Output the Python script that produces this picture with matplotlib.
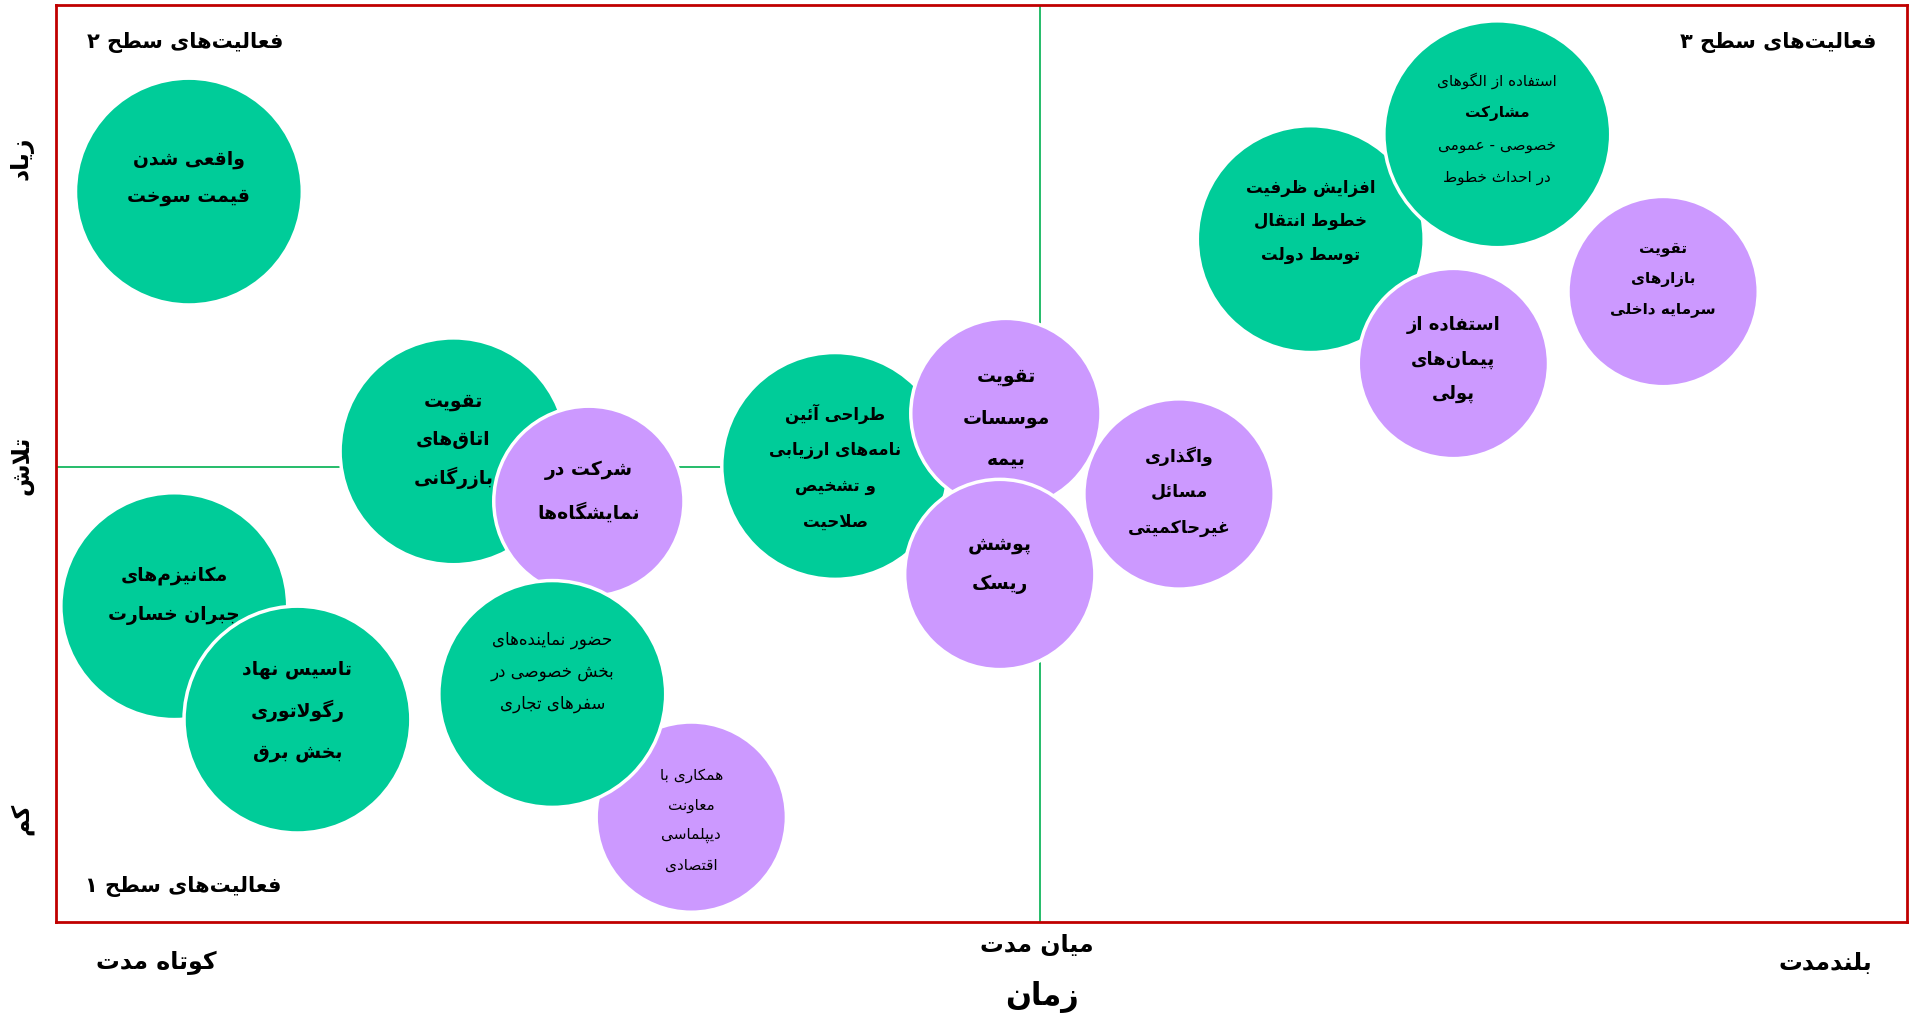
import matplotlib
matplotlib.use("Agg")
import matplotlib.pyplot as plt
from matplotlib.patches import Circle

# activities: label lines, position on time axis, position on effort axis, bubble radius, group
labels = [
    ['واقعی شدن', 'قیمت سوخت'],
    ['تقویت', 'اتاق‌های', 'بازرگانی'],
    ['شرکت در', 'نمایشگاه‌ها'],
    ['مکانیزم‌های', 'جبران خسارت'],
    ['تاسیس نهاد', 'رگولاتوری', 'بخش برق'],
    ['همکاری با', 'معاونت', 'دیپلماسی', 'اقتصادی'],
    ['حضور نماینده‌های', 'بخش خصوصی در', 'سفرهای تجاری'],
    ['طراحی آئین', 'نامه‌های ارزیابی', 'و تشخیص', 'صلاحیت'],
    ['تقویت', 'موسسات', 'بیمه'],
    ['پوشش', 'ریسک'],
    ['واگذاری', 'مسائل', 'غیرحاکمیتی'],
    ['افزایش ظرفیت', 'خطوط انتقال', 'توسط دولت'],
    ['استفاده از الگوهای', 'مشارکت', 'خصوصی - عمومی', 'در احداث خطوط'],
    ['استفاده از', 'پیمان‌های', 'پولی'],
    ['تقویت', 'بازارهای', 'سرمایه داخلی'],
]
time_pos = [109, 326, 437, 97, 198, 521, 407, 639, 779, 774, 921, 1029, 1182, 1146, 1318]
effort_pos = [599, 386, 345, 259, 166, 86, 187, 374, 417, 285, 351, 560, 646, 458, 517]
radius = [93, 93, 78, 93, 93, 78, 93, 93, 78, 78, 78, 93, 93, 78, 78]
group = ['g', 'g', 'p', 'g', 'g', 'p', 'g', 'g', 'p', 'p', 'p', 'g', 'g', 'p', 'p']

quadrant_titles = ['فعالیت‌های سطح ۲', 'فعالیت‌های سطح ۳', 'فعالیت‌های سطح ۱']
effort_ticks = ['زیاد', 'تلاش', 'کم']
time_ticks = ['کوتاه مدت', 'میان مدت', 'بلندمدت']
time_title = 'زمان'

# text style per bubble: font size, line step, shift of the text block, weight per line
text_size = [13.5, 13.5, 13.5, 13.5, 13.5, 11, 12, 12, 13.5, 13.5, 12.5, 12, 11, 13, 11]
text_step = [30, 31.5, 34, 33, 34, 24.5, 26, 29.5, 34, 32, 29.5, 27.5, 26.5, 28, 24.5]
text_shift = [12, 10.5, 9, 9.5, 8, -1.5, 19, -1, -3, 9, 2.5, 15.5, 5, 4, 10.5]
text_weight = {6: 'normal', 5: 'normal', 12: ['normal', 'bold', 'normal', 'normal']}
colors = {'g': '#00CC99', 'p': '#CC99FF'}

# --- simple Persian shaping (matplotlib has no bidi / joining) ---
FORMS = {
    'ا': (0xFE8D, 0xFE8E, None, None), 'آ': (0xFE81, 0xFE82, None, None),
    'ئ': (0xFE89, 0xFE8A, 0xFE8B, 0xFE8C), 'ب': (0xFE8F, 0xFE90, 0xFE91, 0xFE92),
    'ت': (0xFE95, 0xFE96, 0xFE97, 0xFE98), 'ث': (0xFE99, 0xFE9A, 0xFE9B, 0xFE9C),
    'ج': (0xFE9D, 0xFE9E, 0xFE9F, 0xFEA0), 'ح': (0xFEA1, 0xFEA2, 0xFEA3, 0xFEA4),
    'خ': (0xFEA5, 0xFEA6, 0xFEA7, 0xFEA8), 'د': (0xFEA9, 0xFEAA, None, None),
    'ذ': (0xFEAB, 0xFEAC, None, None), 'ر': (0xFEAD, 0xFEAE, None, None),
    'ز': (0xFEAF, 0xFEB0, None, None), 'س': (0xFEB1, 0xFEB2, 0xFEB3, 0xFEB4),
    'ش': (0xFEB5, 0xFEB6, 0xFEB7, 0xFEB8), 'ص': (0xFEB9, 0xFEBA, 0xFEBB, 0xFEBC),
    'ض': (0xFEBD, 0xFEBE, 0xFEBF, 0xFEC0), 'ط': (0xFEC1, 0xFEC2, 0xFEC3, 0xFEC4),
    'ظ': (0xFEC5, 0xFEC6, 0xFEC7, 0xFEC8), 'ع': (0xFEC9, 0xFECA, 0xFECB, 0xFECC),
    'غ': (0xFECD, 0xFECE, 0xFECF, 0xFED0), 'ف': (0xFED1, 0xFED2, 0xFED3, 0xFED4),
    'ق': (0xFED5, 0xFED6, 0xFED7, 0xFED8), 'ل': (0xFEDD, 0xFEDE, 0xFEDF, 0xFEE0),
    'م': (0xFEE1, 0xFEE2, 0xFEE3, 0xFEE4), 'ن': (0xFEE5, 0xFEE6, 0xFEE7, 0xFEE8),
    'ه': (0xFEE9, 0xFEEA, 0xFEEB, 0xFEEC), 'و': (0xFEED, 0xFEEE, None, None),
    'پ': (0xFB56, 0xFB57, 0xFB58, 0xFB59), 'چ': (0xFB7A, 0xFB7B, 0xFB7C, 0xFB7D),
    'ژ': (0xFB8A, 0xFB8B, None, None), 'ک': (0xFB8E, 0xFB8F, 0xFB90, 0xFB91),
    'گ': (0xFB92, 0xFB93, 0xFB94, 0xFB95), 'ی': (0xFBFC, 0xFBFD, 0xFBFE, 0xFBFF),
}
LAM_ALEF = {'ا': (0xFEFB, 0xFEFC), 'آ': (0xFEF5, 0xFEF6)}


def dual(c):
    return c in FORMS and FORMS[c][2] is not None


def fa(text):
    out = []
    i = 0
    while i < len(text):
        c = text[i]
        prev = text[i - 1] if i > 0 else ''
        nxt = text[i + 1] if i + 1 < len(text) else ''
        if c not in FORMS:
            if c != '\u200c':
                out.append(c)
            i += 1
            continue
        jp = dual(prev)
        if c == 'ل' and nxt in LAM_ALEF:
            iso, fin = LAM_ALEF[nxt]
            out.append(chr(fin if jp else iso))
            i += 2
            continue
        jn = dual(c) and nxt in FORMS
        iso, fin, ini, med = FORMS[c]
        code = med if (jp and jn) else fin if jp else ini if jn else iso
        out.append(chr(code))
        i += 1
    return ''.join(reversed(out))


plt.rcParams['font.family'] = ['DejaVu Sans']

fig = plt.figure(figsize=(19.12, 10.2), dpi=100)
ax = fig.add_axes([56 / 1912, 97 / 1020, 1851 / 1912, 917 / 1020])
ax.set_xlim(0, 1518)
ax.set_ylim(0, 752)
ax.set_xticks([])
ax.set_yticks([])
for s in ax.spines.values():
    s.set_color('#C00000')
    s.set_linewidth(2)

# quadrant dividers
ax.axvline(807, color='#00B050', lw=1.2, zorder=0.5)
ax.plot([0, 639], [373, 373], color='#00B050', lw=1.2, zorder=0.5)

for i in range(len(labels)):
    circ = Circle((time_pos[i], effort_pos[i]), radius[i], facecolor=colors[group[i]],
                  edgecolor='white', lw=2.5, zorder=i + 1)
    ax.add_patch(circ)
    fs = text_size[i]
    w = text_weight.get(i, 'bold')
    lines = labels[i]
    step = text_step[i]
    top = effort_pos[i] + text_shift[i] + step * (len(lines) - 1) / 2
    for k, line in enumerate(lines):
        wk = w[k] if isinstance(w, list) else w
        ax.text(time_pos[i], top - k * step, fa(line), ha='center', va='center',
                fontsize=fs, fontweight=wk, zorder=i + 1.5)

# quadrant titles
ax.text(106, 722, fa(quadrant_titles[0]), ha='center', va='center', fontsize=15, fontweight='bold')
ax.text(1412, 722, fa(quadrant_titles[1]), ha='center', va='center', fontsize=15, fontweight='bold')
ax.text(104, 30, fa(quadrant_titles[2]), ha='center', va='center', fontsize=15, fontweight='bold')

# effort axis labels
for lab, y in zip(effort_ticks, [627, 375, 85]):
    ax.text(-28, y, fa(lab), rotation=90, ha='center', va='center', fontsize=17,
            fontweight='bold', clip_on=False)

# time axis labels
for lab, x, y in zip(time_ticks, [82, 804, 1451], [-33, -18, -33]):
    ax.text(x, y, fa(lab), ha='center', va='center', fontsize=17, fontweight='bold', clip_on=False)
ax.text(809, -61, fa(time_title), ha='center', va='center', fontsize=22, fontweight='bold', clip_on=False)

fig.savefig('out.png', dpi=100, facecolor='white')
